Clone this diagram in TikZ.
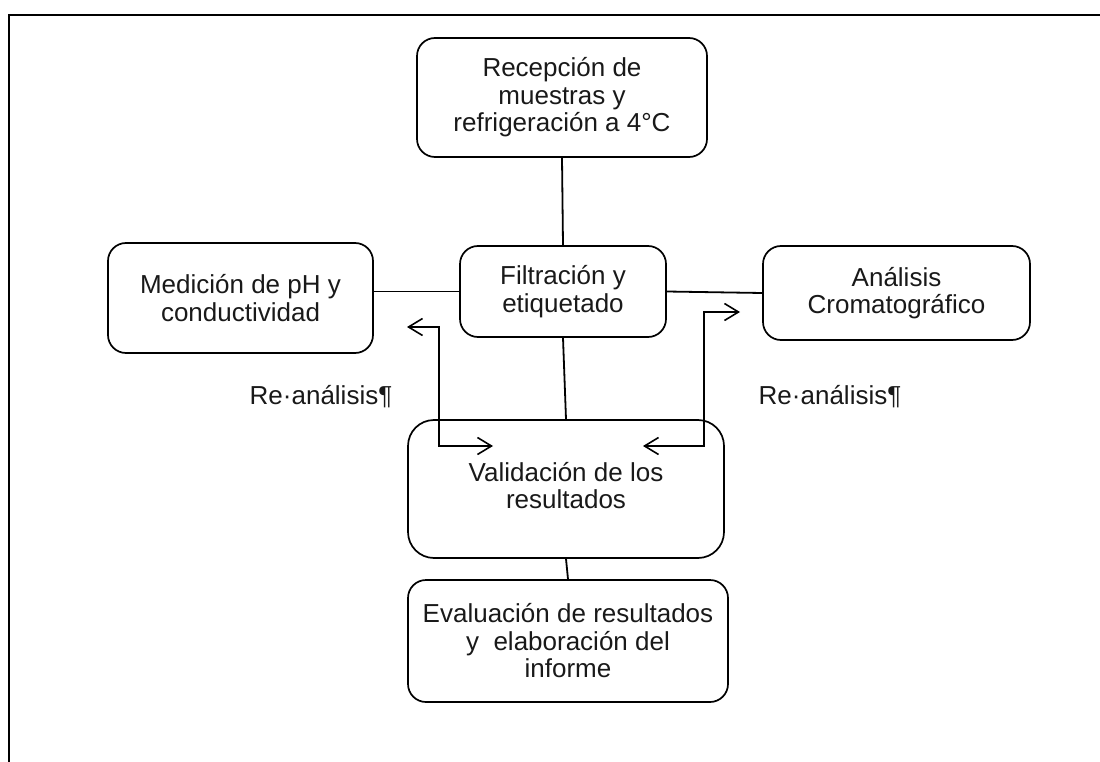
\documentclass[tikz,border=0pt]{standalone}
\usepackage{fontspec}
\setmainfont{Liberation Sans}
\usetikzlibrary{arrows.meta}
\begin{document}
\begin{tikzpicture}[x=1pt,y=-1pt,
  box/.style={draw, line width=1.7pt, rounded corners=18pt, align=center, inner sep=0pt,
    font=\fontsize{26}{27.5}\selectfont, text=black!90},
  conn/.style={line width=1.8pt},
  barb/.style={line width=1.6pt, line join=miter,
    {Straight Barb[length=14pt,width=17pt]}-{Straight Barb[length=14pt,width=17pt]}},
  lbl/.style={font=\fontsize{26}{27.5}\selectfont, inner sep=0pt, text=black!90}]
\useasboundingbox (0,0) rectangle (1100,762);
\draw[line width=2pt] (9,762) -- (9,15) -- (1100,15);

\node[box, minimum width=290pt, minimum height=119pt] (rec) at (562,97.5)
  {Recepción de\\muestras y\\refrigeración a 4°C};
\node[box, minimum width=265pt, minimum height=110pt] (med) at (240.5,298)
  {Medición de pH y\\conductividad};
\node[box, minimum width=206pt, minimum height=91pt] (fil) at (563,291.5)
  {Filtración y\\etiquetado};
\node[box, minimum width=267pt, minimum height=94pt] (ana) at (896.5,293)
  {Análisis\\Cromatográfico};
\node[box, minimum width=316pt, minimum height=138pt, rounded corners=26pt] (val) at (566,489)
  {Validación de los\\resultados\vphantom{p}\\[-20pt]\mbox{}};
\node[box, minimum width=320pt, minimum height=122pt] (eva) at (568,641)
  {Evaluación de resultados\\y~ elaboración del\\informe};

\node[lbl] (l1) at (321,397) {Re·análisis¶};
\node[lbl] (l2) at (830,397) {Re·análisis¶};

\draw[conn] (rec.south) -- (fil.north);
\draw[conn] (med.east |- fil.west) -- (fil.west);
\draw[conn] (fil.east) -- (ana.west);
\draw[conn] (fil.south) -- (val.north);
\draw[conn] (val.south) -- (eva.north);

\coordinate (a1) at (407,327);
\coordinate (a2) at (493,446);
\coordinate (b1) at (740,312);
\coordinate (b2) at (643,446);
\draw[barb] (a1) -- ++(32,0) |- (a2);
\draw[barb] (b1) -- ++(-36,0) |- (b2);
\end{tikzpicture}
\end{document}
